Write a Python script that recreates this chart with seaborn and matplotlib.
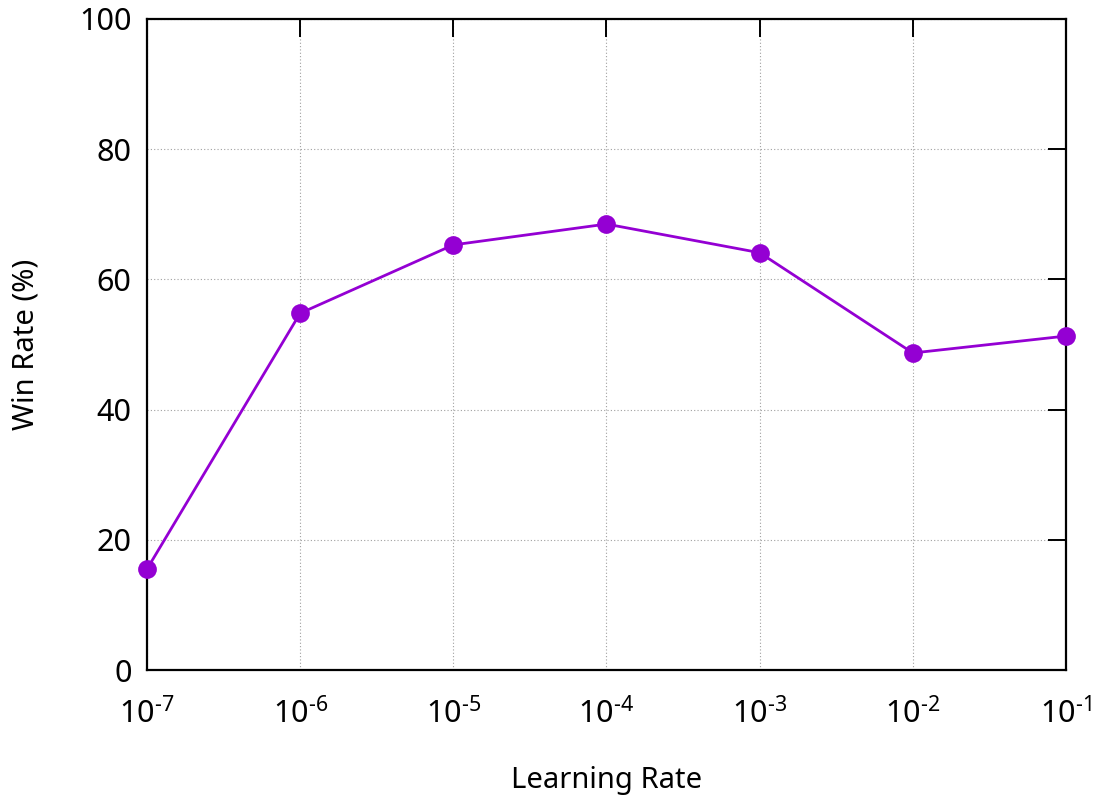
import matplotlib
matplotlib.use("Agg")
import matplotlib.pyplot as plt
import seaborn as sns
import pandas as pd

learning_rates = [1e-7, 1e-6, 1e-5, 1e-4, 1e-3, 1e-2, 1e-1]
win_rate = [15.5, 54.8, 65.3, 68.5, 64.1, 48.7, 51.3]
x_tick_labels = ["$10^{\u20107}$", "$10^{\u20106}$", "$10^{\u20105}$", "$10^{\u20104}$",
                 "$10^{\u20103}$", "$10^{\u20102}$", "$10^{\u20101}$"]
y_ticks = [0, 20, 40, 60, 80, 100]

sns.set_theme(style="white")
plt.rcParams['font.family'] = ['Noto Sans', 'DejaVu Sans']
plt.rcParams['mathtext.default'] = 'regular'

df = pd.DataFrame({"lr": learning_rates, "wr": win_rate})

fig = plt.figure(figsize=(11.05, 8.01), dpi=100)
ax = fig.add_axes([0.133, 0.1635, 0.8317, 0.8128])
sns.lineplot(data=df, x="lr", y="wr", ax=ax, color="#9400D3", linewidth=2,
             marker="o", markersize=13.5, markeredgewidth=0, markerfacecolor="#9400D3",
             clip_on=False, zorder=5)
ax.set_xscale("log")
ax.set_xlim(1e-7, 1e-1)
ax.set_ylim(0, 100)
ax.set_xticks(learning_rates)
ax.set_xticklabels(x_tick_labels)
ax.minorticks_off()
ax.set_yticks(y_ticks)
ax.grid(True, color="#a0a0a0", linestyle=(0, (1, 2)), linewidth=0.8)
for s in ax.spines.values():
    s.set_color("black")
    s.set_linewidth(1.6)
ax.tick_params(axis="both", which="major", direction="in", length=13, width=1.4,
               top=True, right=True, labelsize=22, colors="black")
ax.tick_params(axis="y", pad=11)
ax.tick_params(axis="x", pad=20)
ax.set_xlabel("Learning Rate", fontsize=21, labelpad=26, color="black")
ax.set_ylabel("Win Rate (%)", fontsize=21, labelpad=28, color="black")
for lab in ax.get_xticklabels() + ax.get_yticklabels():
    lab.set_color("black")
fig.savefig("out.png", dpi=100)
